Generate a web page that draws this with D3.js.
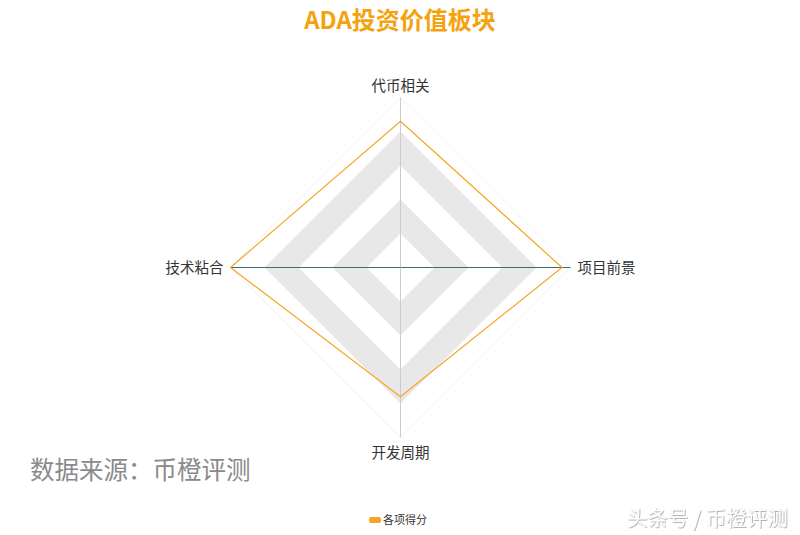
<!DOCTYPE html>
<html><head><meta charset="utf-8">
<script src="https://cdn.jsdelivr.net/npm/d3@7"></script>
<style>body{margin:0;background:#fff}svg{display:block}</style>
</head><body>
<svg id="c" width="800" height="535"></svg>
<script>
const title = "ADA投资价值板块";
const indicators = ["代币相关", "项目前景", "开发周期", "技术粘合"];
const seriesName = "各项得分";
const values = [8.6, 9.5, 7.6, 10];
const maxValue = 10;
const splitCount = 5;

const svg = d3.select("#c");
const font = "'Microsoft YaHei','Noto Sans CJK SC',sans-serif";
const cx = 400.5, cy = 267.5, R = 170;
const r = d3.scaleLinear().domain([0, maxValue]).range([0, R]);
const angle = i => -Math.PI / 2 + i * 2 * Math.PI / indicators.length;
const pt = (i, v) => [cx + r(v) * Math.cos(angle(i)), cy + r(v) * Math.sin(angle(i))];

svg.append("text").attr("x", 400).attr("y", 29).attr("text-anchor", "middle")
  .attr("font-family", font).attr("font-weight", "bold").attr("font-size", 24)
  .attr("fill", "#f5a20f").text(title);

// split areas (bands)
const g = svg.append("g");
const levels = d3.range(splitCount, 0, -1);
levels.forEach(k => {
  const v = maxValue * k / splitCount;
  const poly = indicators.map((_, i) => pt(i, v));
  g.append("path").attr("d", d3.line()(poly) + "Z")
    .attr("fill", (k % 2 === 0) ? "#e8e8e8" : "#ffffff").attr("stroke", "none");
});
levels.forEach(k => {
  const v = maxValue * k / splitCount;
  const poly = indicators.map((_, i) => pt(i, v));
  g.append("path").attr("d", d3.line()(poly) + "Z")
    .attr("fill", "none").attr("stroke", "#f2f2f2").attr("stroke-width", 1);
});
// axis lines
indicators.forEach((_, i) => {
  const [x, y] = pt(i, maxValue);
  g.append("line").attr("x1", cx).attr("y1", cy).attr("x2", x).attr("y2", y)
    .attr("stroke", (i % 2 === 1) ? "#3a7070" : "#cccccc").attr("stroke-width", 1);
});

// data polygon
const dataPts = values.map((v, i) => pt(i, v));
g.append("path").attr("d", d3.line()(dataPts) + "Z")
  .attr("fill", "none").attr("stroke", "#f5a623").attr("stroke-width", 1.2);

// indicator labels
const lab = svg.append("g").attr("font-family", font).attr("font-size", 14.5).attr("fill", "#333");
indicators.forEach((name, i) => {
  const [x, y] = pt(i, maxValue);
  const a = angle(i);
  const c = Math.cos(a), s = Math.sin(a);
  let tx = x + c * 7, ty, anchor = "middle";
  if (c > 0.5) { anchor = "start"; ty = y + 5; }
  else if (c < -0.5) { anchor = "end"; ty = y + 5; }
  else if (s < 0) { ty = y - 7; }
  else { ty = y + 20; }
  lab.append("text").attr("x", tx).attr("y", ty).attr("text-anchor", anchor).text(name);
});

// legend
svg.append("rect").attr("x", 369).attr("y", 517).attr("width", 12).attr("height", 6).attr("rx", 2)
  .attr("fill", "#f5a623");
svg.append("text").attr("x", 383).attr("y", 524).attr("font-family", font).attr("font-size", 11)
  .attr("fill", "#333").text(seriesName);

// watermarks
svg.append("text").attr("x", 30).attr("y", 479).attr("font-family", font).attr("font-size", 24.5)
  .attr("fill", "#8a8a8a").text("数据来源：币橙评测");
const defs = svg.append("defs");
const f = defs.append("filter").attr("id", "sh");
f.append("feDropShadow").attr("dx", 0.6).attr("dy", 0.6).attr("stdDeviation", 0.6).attr("flood-color", "#666").attr("flood-opacity", 0.8);
svg.append("text").attr("x", 627).attr("y", 526).attr("font-family", font).attr("font-size", 20.5)
  .attr("fill", "#ffffff").attr("filter", "url(#sh)").text("头条号 / 币橙评测");
</script>
</body></html>
